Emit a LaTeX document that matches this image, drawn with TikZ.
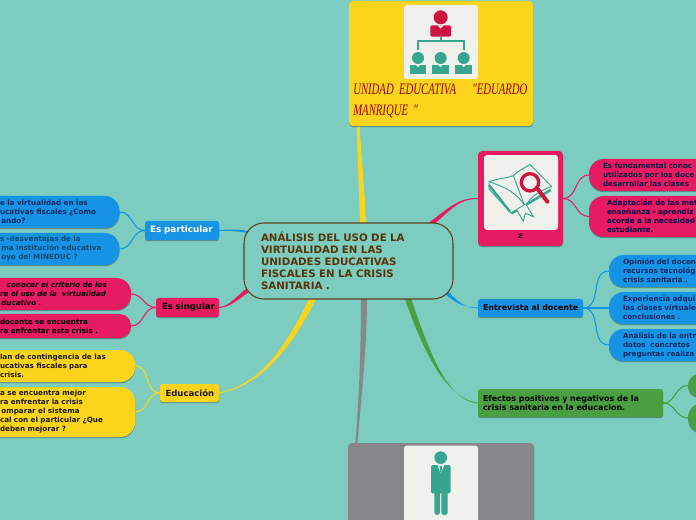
\documentclass[tikz,border=0pt]{standalone}
\usepackage{fontspec}
\setmainfont{DejaVu Sans}
\newfontfamily\handfont{Liberation Serif}[FakeStretch=.67]
\usetikzlibrary{calc,shadows,backgrounds}
\definecolor{bgc}{HTML}{7CCDC0}
\definecolor{bluec}{HTML}{1793E6}
\definecolor{pinkc}{HTML}{E71B62}
\definecolor{yelc}{HTML}{FCD41C}
\definecolor{grnc}{HTML}{48A040}
\definecolor{gryc}{HTML}{87878B}
\definecolor{whc}{HTML}{F0F0EC}
\definecolor{tealc}{HTML}{36A68F}
\definecolor{redc}{HTML}{CC1440}
\definecolor{brownc}{HTML}{5A3408}
\definecolor{navyc}{HTML}{0C2A62}
\tikzset{
  base/.style={rectangle,inner sep=0pt,outer sep=0pt,align=left,
    drop shadow={shadow xshift=0pt,shadow yshift=-.9pt,opacity=.3,fill=black}},
  leaf/.style={base,rounded corners=11pt,
    font=\fontsize{5.4}{6.75}\selectfont\bfseries},
  head/.style={base,rounded corners=2pt,
    font=\fontsize{6.4}{6.75}\selectfont\bfseries},
  card/.style={base,rounded corners=3pt},
  bluel/.style={leaf,fill=bluec,text=navyc},
  pinkl/.style={leaf,fill=pinkc,text=black},
  yell/.style={leaf,fill=yelc,text=black!90},
  grnl/.style={leaf,fill=grnc},
  twig/.style={line width=.8pt},
}
% name, x0, y0, x1, y1, pad, style, text
\newcommand\bx[8]{%
  \pgfmathsetmacro\bxw{(#4-#2)*.75}%
  \pgfmathsetmacro\bxh{(#5-#3)*.75}%
  \pgfmathsetmacro\bxt{(#4-#2-2*#6)*.75}%
  \node[#7,minimum width=\bxw pt,minimum height=\bxh pt,text width=\bxt pt]
    (#1) at ({(#2+#4)/2},{(#3+#5)/2}) {#8};}
% colour, start, end, c1, c2, half width at start, half width at end
\newcommand\taper[7]{%
  \fill[#1] ($(#2)+(#6)$) .. controls ($(#4)+(#6)$) and ($(#5)+(#7)$) .. ($(#3)+(#7)$)
    -- ($(#3)-(#7)$) .. controls ($(#5)-(#7)$) and ($(#4)-(#6)$) .. ($(#2)-(#6)$) -- cycle;}
\begin{document}
\begin{tikzpicture}[x=.75pt,y=-.75pt]
\useasboundingbox (0,0) rectangle (696,520);
\clip (0,0) rectangle (696,520);

% central
\bx{c}{244}{223}{453}{299}{17}{rectangle,inner sep=0pt,outer sep=0pt,align=left,draw=brownc!85!gray,line width=.8pt,fill=bgc,rounded corners=15pt,text=brownc,font=\fontsize{7.7}{9}\selectfont\bfseries}{ANÁLISIS DEL USO DE LA\\VIRTUALIDAD EN LAS\\UNIDADES EDUCATIVAS\\FISCALES EN LA CRISIS\\SANITARIA .}

% cards with pictures
\bx{top}{349}{1}{533}{126}{4}{card,fill=yelc}{}
\node[rectangle,fill=whc,rounded corners=2pt,minimum width=55.5pt,minimum height=55.5pt,inner sep=0pt] (topw) at (441,42) {};
\node[anchor=north west,inner sep=0pt,align=left,text=red!62!black,font=\handfont\itshape\fontsize{12}{15.75}\selectfont,text width=135pt] (topt) at (353,84) {\mbox{UNIDAD EDUCATIVA \ \ "EDUARDO}\\MANRIQUE "};

\bx{zb}{478}{151}{563}{246}{4}{card,fill=pinkc}{}
\node[rectangle,fill=whc,rounded corners=2pt,minimum width=55.5pt,minimum height=56pt,inner sep=0pt] (zw) at (521,192.5) {};
\node[inner sep=0pt,font=\fontsize{6}{7}\selectfont\bfseries] (zt) at (520.5,236.5) {z};

\bx{per}{348}{443}{534}{560}{4}{card,fill=gryc}{}
\node[rectangle,fill=whc,rounded corners=2pt,minimum width=55.5pt,minimum height=80pt,inner sep=0pt] (perw) at (441,499) {};

% left heads and leaves
\bx{ep}{145}{221}{219}{240}{5}{head,fill=bluec,text=white,font=\fontsize{6.6}{6.75}\selectfont\bfseries}{\mbox{Es particular}}
\bx{es}{156}{298}{219}{317}{6}{head,fill=pinkc,text=black}{\mbox{Es singular}}
\bx{ed}{160}{384}{219}{402}{5.5}{head,fill=yelc,text=black!90}{\mbox{Educación}}

\bx{l1}{-15}{196}{119.5}{228}{15}{bluel}{e la virtualidad en las\\ucativas fiscales ¿Como\\\hspace*{1pt}ando?}
\bx{l2}{-15}{233}{119.5}{265}{15}{bluel,text=teal!35!navyc}{s -desventajas de la\\\hspace*{1pt}ma institución educativa\\\hspace*{1pt}oyo del MINEDUC ?}
\bx{l3}{-15}{278}{131}{310}{15}{pinkl,font=\fontsize{5.4}{6.75}\selectfont\bfseries\itshape}{\hspace*{5pt}conocer el criterio de los\\re el uso de la \ virtualidad\\\hspace*{1pt}ducativo .}
\bx{l4}{-15}{314}{131}{338}{15}{pinkl,rounded corners=8.5pt}{docente se encuentra\\ra enfrentar esta crisis .}
\bx{l5}{-15}{350}{135}{382}{15}{yell}{lan de contingencia de las\\ucativas fiscales para\\crisis.}
\bx{l6}{-15}{387}{135}{437}{15}{yell}{a se encuentra mejor\\ra enfrentar la crisis\\\hspace*{1pt}omparar el sistema\\cal con el particular ¿Que\\deben mejorar ?}

% right heads and leaves
\bx{en}{478}{299}{583}{317}{5}{head,fill=bluec,text=black,font=\fontsize{5.95}{6.75}\selectfont\bfseries}{\mbox{Entrevista al docente}}
\bx{ef}{478}{389}{663}{417}{5}{head,fill=grnc,text=black,font=\fontsize{6}{6.75}\selectfont\bfseries}{Efectos positivos y negativos de la\\crisis sanitaria en la educacion.}

\bx{r1}{589}{159}{800}{191}{14}{pinkl,text=navyc!70!black}{Es fundamental conoc\\utilizados por los doce\\desarrollar las clases}
\bx{r2}{589}{196}{800}{237}{18}{pinkl,text=blue!30!black}{Adaptación de las met\\enseñanza - aprendiz\\acorde a la necesidad\\estudiante.}
\bx{r3}{609}{255}{800}{287}{14}{bluel}{Opinión del docen\\recursos tecnológ\\crisis sanitaria .}
\bx{r4}{609}{292}{800}{324}{14}{bluel}{Experiencia adqui\\las clases virtuale\\conclusiones .}
\bx{r5}{609}{329}{800}{361}{14}{bluel}{Análisis de la entr\\datos \ concretos\\preguntas realiza}
\bx{g1}{688}{374}{800}{397}{5}{grnl,rounded corners=8.5pt}{}
\bx{g2}{688}{403}{800}{433}{5}{grnl}{}

% pictures
\begin{scope}[shift={(340,0)},x=.25pt,y=-.25pt]
  \fill[redc] (302,52) circle[radius=21];
  \fill[redc,rounded corners=1pt] (271,110) -- (271,76) -- (333,76) -- (333,110) -- cycle;
  \fill[whc] (293,76) -- (311,76) -- (302,86) -- cycle;
  \draw[tealc,line width=1.4pt] (302,112) -- (302,124) (233,150) -- (233,124) -- (372,124) -- (372,150);
  \foreach \hx in {234,302,371}{
    \fill[tealc] (\hx,174) circle[radius=18];
    \fill[tealc] ({\hx-25},221) rectangle ({\hx+25},195);
    \fill[whc] ({\hx-6},195) -- ({\hx+6},195) -- (\hx,202) -- cycle;
  }
\end{scope}
\begin{scope}[shift={(470,145)},x=.25pt,y=-.25pt]
  \fill[whc] (57,110) -- (130,92) -- (180,58) -- (245,125) -- (240,145) -- (130,205) -- (57,135) -- cycle;
  \draw[tealc,line width=.7pt,line join=round] (57,110) .. controls (85,100) and (110,100) .. (130,92) .. controls (145,75) and (165,70) .. (180,58) -- (245,125) .. controls (215,135) and (185,150) .. (165,185) .. controls (140,140) and (100,125) .. (57,110);
  \draw[tealc,line width=.7pt] (130,92) -- (165,185);
  \draw[tealc,line width=1.8pt] (57,120) -- (120,200) (125,205) -- (242,135);
  \draw[tealc,line width=.7pt] (57,110) -- (57,132) -- (125,206);
  \draw[tealc,line width=.7pt,fill=whc] (140,195) -- (160,228) -- (166,205) -- (190,215) -- (168,178);
  \draw[redc,line width=2.5pt] (180,112) circle[radius=26];
  \draw[redc,line width=3pt,line cap=round] (203,132) -- (232,170);
\end{scope}
\begin{scope}[shift={(340,430)},x=.25pt,y=-.25pt]
  \fill[tealc] (302,83) circle[radius=19];
  \fill[tealc,rounded corners=1pt] (273,190) -- (273,105) -- (332,105) -- (332,190) -- cycle;
  \fill[tealc,rounded corners=2pt] (283,255) rectangle (300,180);
  \fill[tealc,rounded corners=2pt] (304,255) rectangle (323,180);
  \fill[whc] (292,105) -- (313,105) -- (302,130) -- cycle;
  \fill[tealc] (299,108) -- (306,108) -- (305,122) -- (302,130) -- (300,122) -- cycle;
\end{scope}

% connectors
\begin{scope}[on background layer]
  \fill[bgc] (0,0) rectangle (696,520);
  \coordinate (sy) at (363,225);
  \coordinate (ty) at (358,120);
  \taper{yelc}{sy}{ty}{362,190}{359,150}{3,0}{1.5,0}
  \coordinate (sg) at (364,296);
  \coordinate (tg) at (356,448);
  \taper{gryc}{sg}{tg}{364,350}{360,400}{3,0}{1,0}
  \coordinate (sn) at (407,296);
  \taper{grnc}{sn}{ef.west}{424,345}{445,400}{2.8,-1}{0,.5}
  \coordinate (sp) at (425,228);
  \taper{pinkc}{sp}{zb.west}{445,215}{455,198}{1,2}{0,.5}
  \coordinate (sb) at (440,285);
  \taper{bluec}{sb}{en.west}{455,303}{465,308}{1.5,-1.5}{0,.5}
  \coordinate (sq) at (252,287);
  \taper{pinkc}{sq}{es.east}{238,297}{230,307}{1,2}{0,.5}
  \coordinate (sr) at (252,233);
  \taper{bluec}{sr}{ep.east}{240,230}{230,230}{.3,1.2}{0,.5}
  \coordinate (su) at (314,296);
  \taper{yelc}{su}{ed.east}{290,345}{262,385}{2.8,1.2}{0,.5}

  \foreach \a/\b/\col in {ep/l1/bluec,ep/l2/bluec,es/l3/pinkc,es/l4/pinkc,ed/l5/yelc,ed/l6/yelc}
    \draw[twig,\col] (\a.west) to[out=180,in=0,looseness=1.1] (\b.east);
  \foreach \a/\b/\col in {en/r3/bluec,en/r4/bluec,en/r5/bluec,ef/g1/grnc,ef/g2/grnc,zb/r1/pinkc,zb/r2/pinkc}
    \draw[twig,\col] (\a.east) to[out=0,in=180,looseness=1.1] (\b.west);
\end{scope}
\end{tikzpicture}
\end{document}
